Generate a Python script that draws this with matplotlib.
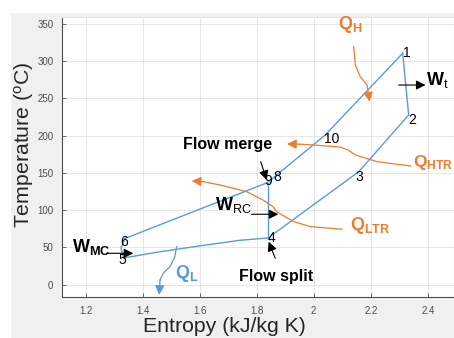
import matplotlib
matplotlib.use('Agg')
import matplotlib.pyplot as plt
from matplotlib.patches import Rectangle

plt.rcParams['font.family'] = ['Liberation Sans', 'DejaVu Sans']
plt.rcParams['mathtext.fontset'] = 'custom'
plt.rcParams['mathtext.rm'] = 'Liberation Sans'
plt.rcParams['mathtext.bf'] = 'Liberation Sans:bold'
plt.rcParams['mathtext.it'] = 'Liberation Sans:italic'

# cycle state points (entropy kJ/kg K, temperature C)
# high pressure side: 5 -> 6 -> 9/8 -> 10 -> 1, turbine 1 -> 2, low pressure 2 -> 3 -> 4 -> 5
s_comp = [1.333, 1.324, 1.338]
T_comp = [35.8, 49.3, 62.0]
s_hp = [1.338, 1.838, 2.040, 2.312]
T_hp = [62.0, 137.0, 200.9, 310.6]
s_turb = [2.312, 2.333]
T_turb = [310.6, 227.8]
s_lp = [2.333, 2.158, 1.840, 1.740, 1.600, 1.450, 1.333]
T_lp = [227.8, 151.7, 62.7, 59.5, 52.0, 43.5, 35.8]
s_rc = [1.840, 1.840]
T_rc = [62.7, 137.0]

point_labels = ['1', '2', '3', '4', '5', '6', '9', '8', '10']
label_s = [2.327, 2.345, 2.160, 1.851, 1.328, 1.334, 1.840, 1.871, 2.064]
label_T = [310.6, 221.0, 145.0, 62.3, 33.2, 57.7, 139.2, 143.9, 195.6]

# heat flow curves (orange / blue)
qh_s = [2.140, 2.146, 2.163, 2.187, 2.196]
qh_T = [319.5, 294.9, 279.2, 268.1, 245.6]
qhtr_s = [2.340, 2.222, 2.146, 2.120, 2.092, 1.998, 1.952, 1.906]
qhtr_T = [159.3, 165.1, 174.1, 180.8, 184.8, 187.5, 188.5, 188.9]
qltr_s = [2.099, 1.988, 1.930, 1.889, 1.871, 1.857, 1.822, 1.765, 1.671, 1.612, 1.572]
qltr_T = [74.4, 77.9, 84.6, 93.6, 98.0, 104.7, 113.7, 124.8, 133.8, 138.3, 139.2]
ql_s = [1.519, 1.513, 1.496, 1.472, 1.461, 1.458]
ql_T = [51.0, 37.6, 24.2, 15.3, 6.3, -13.8]

# work / flow arrows: (start s, start T, end s, end T)
wt_arrow = [2.298, 268.0, 2.392, 268.0]
wrc_arrow = [1.782, 94.5, 1.876, 94.5]
wmc_arrow = [1.274, 42.1, 1.367, 42.1]
merge_arrow = [1.814, 165.1, 1.835, 140.5]
split_arrow = [1.865, 35.4, 1.842, 57.7]

blue = '#5b9bd5'
orange = '#ed7d31'

fig = plt.figure(figsize=(4.54, 3.38), dpi=100, facecolor='#f0f0f0')
fig.patches.append(Rectangle((0, 0), 10 / 454, 1, transform=fig.transFigure, color='white', zorder=-5))
fig.patches.append(Rectangle((0, 1 - 12 / 338), 1, 12 / 338, transform=fig.transFigure, color='white', zorder=-5))
ax = fig.add_axes([61.7 / 454, 1 - 297.3 / 338, 1 - 61.7 / 454, (297.3 - 16.5) / 338])

for xs, ys in [(s_comp, T_comp), (s_hp, T_hp), (s_turb, T_turb), (s_lp, T_lp), (s_rc, T_rc)]:
    ax.plot(xs, ys, color=blue, lw=1.0)

for lab, x, y in zip(point_labels, label_s, label_T):
    ax.text(x, y, lab, fontsize=10, ha='center', va='center', color='k')


def curved_arrow(xs, ys, col):
    ax.plot(xs[:-1], ys[:-1], color=col, lw=0.9)
    ax.annotate('', xy=(xs[-1], ys[-1]), xytext=(xs[-2], ys[-2]),
                arrowprops=dict(arrowstyle='-|>', color=col, lw=0.9, mutation_scale=14,
                                shrinkA=0, shrinkB=0))


curved_arrow(qh_s, qh_T, orange)
curved_arrow(qhtr_s, qhtr_T, orange)
curved_arrow(qltr_s, qltr_T, orange)
curved_arrow(ql_s, ql_T, blue)

for a in [wt_arrow, wrc_arrow, wmc_arrow, merge_arrow, split_arrow]:
    ax.annotate('', xy=(a[2], a[3]), xytext=(a[0], a[1]),
                arrowprops=dict(arrowstyle='-|>', color='k', lw=0.8, mutation_scale=14,
                                shrinkA=0, shrinkB=0))

ax.text(2.128, 348.6, r'$\mathbf{Q}_\mathbf{H}$', color=orange, fontsize=13, ha='center', va='center')
ax.text(2.347, 163.4, r'$\mathbf{Q}_\mathbf{HTR}$', color=orange, fontsize=12.5, ha='left', va='center')
ax.text(2.128, 79.0, r'$\mathbf{Q}_\mathbf{LTR}$', color=orange, fontsize=13, ha='left', va='center')
ax.text(1.513, 15.3, r'$\mathbf{Q}_\mathbf{L}$', color=blue, fontsize=13, ha='left', va='center')
ax.text(2.394, 274.8, r'$\mathbf{W}_\mathrm{t}$', color='k', fontsize=13, ha='left', va='center')
ax.text(1.717, 107.0, r'$\mathbf{W}_\mathrm{RC}$', color='k', fontsize=13, ha='center', va='center')
ax.text(1.151, 50.2, r'$\mathbf{W}_\mathbf{MC}$', color='k', fontsize=13, ha='left', va='center')
ax.text(1.699, 187.5, 'Flow merge', fontsize=11.5, fontweight='bold', ha='center', va='center')
ax.text(1.737, 10.7, 'Flow split', fontsize=11.5, fontweight='bold', ha='left', va='center')

ax.set_xlim(1.116, 2.492)
ax.set_ylim(-17, 360)
ax.set_xticks([1.2, 1.4, 1.6, 1.8, 2.0, 2.2, 2.4])
ax.set_xticklabels(['1.2', '1.4', '1.6', '1.8', '2', '2.2', '2.4'])
ax.set_yticks([0, 50, 100, 150, 200, 250, 300, 350])
ax.tick_params(direction='in', length=3, width=0.6, labelsize=7, colors='#4d4d4d', pad=6)
ax.grid(True, color='#e3e3e3', lw=0.6)
ax.set_axisbelow(True)
for side in ['left', 'bottom']:
    ax.spines[side].set_color('#4d4d4d')
    ax.spines[side].set_linewidth(0.8)
for side in ['top', 'right']:
    ax.spines[side].set_color('#e3e3e3')

ax.set_xlabel('Entropy (kJ/kg K)', fontsize=15.3, color='#262626')
ax.set_ylabel(r'Temperature ($^\mathrm{o}$C)', fontsize=15.3, color='#262626')
ax.xaxis.set_label_coords(0.414, -0.07)
ax.yaxis.set_label_coords(-0.066, 0.545)

fig.savefig('out.png', dpi=100, facecolor=fig.get_facecolor())
